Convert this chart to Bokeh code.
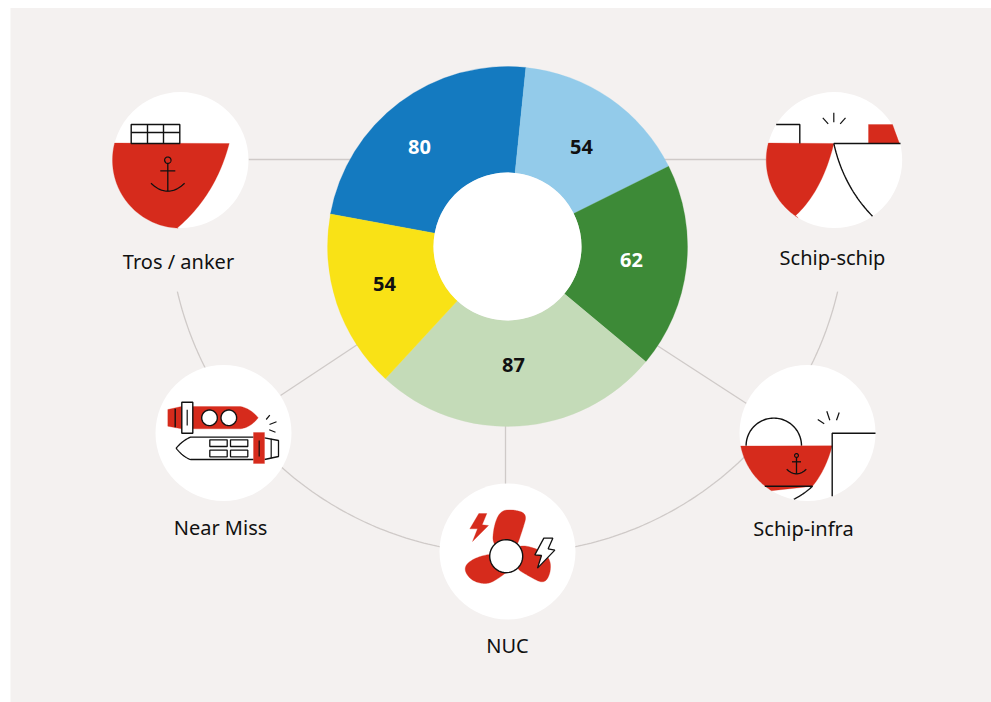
import numpy as np
from bokeh.plotting import figure
from bokeh.core.properties import value
from bokeh.embed import file_html
from bokeh.resources import INLINE

# ---- data
categories = ["Tros / anker", "Schip-schip", "Schip-infra", "NUC", "Near Miss"]
slice_values = [80, 54, 62, 87, 54]
slice_colors = ["#147ac0", "#93cbea", "#3d8a37", "#c4dbb8", "#f9e216"]
label_colors = ["#ffffff", "#111111", "#ffffff", "#111111", "#111111"]

# ---- layout (page pixels)
label_xy = [(419, 146), (581, 146), (631, 259), (513, 364), (384, 283)]
cat_xy = [(178, 260.5), (832, 256.5), (803, 527.5), (507, 644.5), (220, 526.5)]
CX, CY, R_OUT, R_IN = 507, 246, 180, 74
START = -79.6
PANEL = "#f4f1f0"; RED = "#d62b1c"; INK = "#111111"; GREY = "#cfcac8"; FONT = "Noto Sans"

p = figure(width=991, height=702, x_range=(0, 991), y_range=(702, 0),
           output_backend="svg", toolbar_location=None, min_border=0,
           background_fill_color="#ffffff", border_fill_color="#ffffff", outline_line_color=None)
p.axis.visible = False
p.grid.visible = False

def arc(cx, cy, r, a1, a2, n=60):
    t = np.radians(np.linspace(a1, a2, n))
    return list(cx + r*np.cos(t)), list(cy + r*np.sin(t))
def bez(a, b, c, n=30):
    t = np.linspace(0, 1, n)
    return (list((1-t)**2*a[0] + 2*t*(1-t)*b[0] + t*t*c[0]),
            list((1-t)**2*a[1] + 2*t*(1-t)*b[1] + t*t*c[1]))
def smooth(pts, k=4):
    pts = np.array(pts, float)
    for _ in range(k):
        q = 0.75*pts + 0.25*np.roll(pts, -1, axis=0)
        r = 0.25*pts + 0.75*np.roll(pts, -1, axis=0)
        pts = np.empty((2*len(q), 2)); pts[0::2] = q; pts[1::2] = r
    return list(pts[:, 0]), list(pts[:, 1])
def fill(xs, ys, color=RED):
    p.patch(xs, ys, fill_color=color, line_color=color, line_width=0.3)
def line(xs, ys, w=1.4, color=INK):
    p.line(xs, ys, line_color=color, line_width=w)
def box(x0, y0, x1, y1, color=None, w=1.4):
    p.patch([x0, x1, x1, x0], [y0, y0, y1, y1], fill_color=color or "#ffffff",
            line_color=INK if color is None else color, line_width=w)
def ring(x, y, r, w=1.4, color="#ffffff"):
    xs, ys = arc(x, y, r, 0, 360)
    p.patch(xs, ys, fill_color=color, line_color=INK, line_width=w)
def anchor(x, ytop, r, ybar, bw, ystem, ax, ay):
    ring(x, ytop, r, 1.2, RED)
    line([x, x], [ytop + r, ystem], 1.3)
    line([x - bw, x + bw], [ybar, ybar], 1.3)
    xs, ys = bez((x - ax, ay), (x, ystem + (ystem - ay)), (x + ax, ay))
    line(xs, ys, 1.3)

# panel
p.patch([10, 991, 991, 10], [7.5, 7.5, 702, 702], fill_color=PANEL, line_color=None)

# grey connectors
ang1 = np.degrees(np.arctan2(291 - 214, 177 - 507))
ang2 = np.degrees(np.arctan2(291 - 214, 837 - 507))
xs, ys = arc(507, 214, 339, ang1, ang2, 200)
line(xs, ys, 1.3, GREY)
for a, b in [((248, 159), (352, 159)), ((660, 159), (768, 159)), ((505, 420), (505, 485)),
             ((280, 395), (360, 342)), ((652, 342), (746, 403))]:
    line([a[0], b[0]], [a[1], b[1]], 1.3, GREY)

# donut from values
total = sum(slice_values)
edges = START + np.cumsum([0] + slice_values) / total * 360
p.annular_wedge(x=[CX]*5, y=[CY]*5, inner_radius=R_IN, outer_radius=R_OUT,
                start_angle=list(np.radians(90 - edges[:-1])), end_angle=list(np.radians(90 - edges[1:])),
                direction="clock", fill_color=slice_colors, line_color=slice_colors, line_width=0.3)
p.circle(x=[CX], y=[CY], radius=R_IN, fill_color="#ffffff", line_color=None)

# icon discs
for c in [(180, 159.6), (833.7, 159.6), (223, 432.5), (807, 432.5), (507, 551)]:
    p.circle(x=[c[0]], y=[c[1]], radius=68, fill_color="#ffffff", line_color=None)

# icon: Tros / anker
xa, ya = arc(180, 159.6, 68, 194.5, 92)
xb, yb = bez((176.7, 227.5), (215, 195), (228.7, 143))
fill(xa + xb, ya + yb)
box(130.7, 124, 179.3, 143)
for x_ in (147, 163):
    line([x_, x_], [124, 143])
line([130.7, 179.3], [132, 132])
anchor(167.3, 159.7, 3.2, 170.3, 7.5, 190.7, 16.8, 182.7)

# icon: Schip-schip
xa, ya = arc(833.7, 159.6, 68, 194.5, 122)
xb, yb = bez((795, 215.3), (822, 190), (833.3, 143))
fill(xa + xb, ya + yb)
line([775.7, 799.3, 799.3], [124, 124, 143])
line([833.3, 833.3], [112.3, 121.7], 1.2)
line([822.3, 827.7], [117.3, 123.3], 1.2)
line([845, 839.7], [117.3, 123.3], 1.2)
fill([868, 892, 899, 868], [124, 124, 143, 143])
line([833.3, 900], [143, 143])
xs, ys = bez((833.3, 143), (843, 186), (872, 215.7))
line(xs, ys)

# icon: Near Miss
xb, yb = bez((240, 406), (250, 408), (257.7, 417.3))
xc, yc = bez((257.7, 417.3), (250, 427), (240, 428.3))
fill([167.3, 181] + xb + xc + [181, 167.3], [409, 406] + yb + yc + [428.3, 425.7])
line([174.7, 174.7], [408.3, 426.7])
box(181.3, 401.7, 192.3, 432.7)
line([186.7, 186.7], [409.3, 425], 1.2)
ring(209, 417.3, 7.8); ring(228.3, 417.3, 7.8)
line([265.7, 269.3], [419, 414.7], 1.2)
line([269, 276], [424, 421.3], 1.2)
line([268.7, 275], [429.3, 431.7], 1.2)
xb, yb = bez((190, 436.7), (182, 440), (175.7, 447.7))
xc, yc = bez((175.7, 447.7), (182, 456), (190, 459))
p.line([253] + xb + xc + [253], [436.7] + yb + yc + [459], line_color=INK, line_width=1.3)
for x0, x1 in [(209.3, 226.7), (230, 247.3)]:
    for y0, y1 in [(439.3, 446), (449.7, 456.3)]:
        box(x0, y0, x1, y1, None, 1.3)
p.line([264, 278, 278, 264], [437.3, 440, 456, 459], line_color=INK, line_width=1.3)
line([270.7, 270.7], [438.3, 457.7], 1.2)
fill([253, 264, 264, 253], [432, 432, 463, 463])
line([258.7, 258.7], [440, 456], 1.2)

# icon: Schip-infra
xs, ys = arc(773.3, 445.3, 27.7, 180, 360)
line(xs, ys)
xa, ya = arc(807, 432.5, 68, 169, 122)
xb, yb = bez((812, 485.7), (825, 470), (831.7, 445.3))
fill(xa + xb, ya + yb)
line([764.3, 812], [485.7, 485.7])
xs, ys = bez((812, 485.7), (803, 494), (793.3, 498.7))
line(xs, ys)
anchor(796, 455, 1.9, 461.3, 4.5, 473.3, 9.8, 468.7)
p.line([875, 831.7, 831.7], [432.7, 432.7, 495.7], line_color=INK, line_width=1.4)
line([817.3, 823.7], [419, 423.3], 1.2)
line([826.3, 829.3], [410.7, 419.7], 1.2)
line([838.7, 836], [412, 419.7], 1.2)

# icon: NUC
Z = lambda pts: ([425 + a/3 for a, _ in pts], [475 + b/3 for _, b in pts])
def zs(pts):
    xs, ys = Z(pts); return smooth(list(zip(xs, ys)))
for blade in ([(200, 215), (205, 150), (225, 105), (265, 102), (305, 115), (292, 160), (270, 225)],
              [(215, 232), (150, 245), (112, 275), (135, 315), (185, 328), (225, 305), (255, 280)],
              [(270, 205), (340, 220), (375, 250), (375, 295), (355, 325), (315, 305), (265, 275)]):
    xs, ys = zs(blade); fill(xs, ys)
ring(505.7, 555.7, 16.5, 1.4)
xs, ys = Z([(160, 114), (184, 114), (170, 148), (189, 150), (141, 198), (156, 160), (133, 160)])
fill(xs, ys)
xs, ys = Z([(355, 188), (382, 188), (368, 220), (388, 224), (336, 278), (348, 240), (328, 238)])
p.patch(xs, ys, fill_color="#ffffff", line_color=INK, line_width=1.3)

# texts
p.text(x=[a for a, _ in label_xy], y=[b for _, b in label_xy], text=[str(v) for v in slice_values],
       text_color=label_colors, text_font=value(FONT), text_font_style="bold", text_font_size="20px",
       text_align="center", text_baseline="middle")
p.text(x=[a for a, _ in cat_xy], y=[b for _, b in cat_xy], text=categories,
       text_color="#111111", text_font=value(FONT), text_font_size="20px",
       text_align="center", text_baseline="middle")

open("out.html", "w").write(file_html(p, INLINE))
